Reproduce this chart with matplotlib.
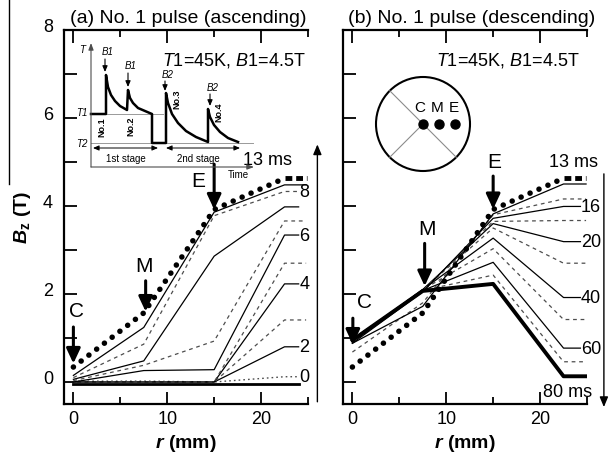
import numpy as np
import matplotlib.pyplot as plt
from matplotlib.patches import Circle
from matplotlib.lines import Line2D
from matplotlib.transforms import ScaledTranslation

plt.rcParams['font.family'] = ['Liberation Sans', 'DejaVu Sans']
plt.rcParams['mathtext.fontset'] = 'custom'
plt.rcParams['mathtext.rm'] = 'Liberation Sans'
plt.rcParams['mathtext.it'] = 'Liberation Sans:italic'
plt.rcParams['mathtext.bf'] = 'Liberation Sans:bold'
plt.rcParams['mathtext.bfit'] = 'Liberation Sans:italic:bold'

# probe positions C, M, E and the outer point (mm)
r_pts = [0, 7.5, 15, 22.5]

# (a) ascending part of pulse No.1, Bz (T) at r_pts
asc_13 = [0.34, 1.57, 3.92, 4.63]
asc_s1 = [0.15, 1.24, 3.86, 4.48]
asc_d1 = [0.10, 0.86, 3.78, 4.33]
asc_s2 = [0.06, 0.48, 2.86, 3.98]
asc_d2 = [0.03, 0.38, 0.93, 3.66]
asc_s3 = [0.00, 0.26, 0.28, 3.34]
asc_d3 = [0.00, 0.00, 0.00, 2.70]
asc_s4 = [0.00, 0.00, 0.00, 2.23]
asc_d4 = [0.00, 0.00, 0.00, 1.41]
asc_s5 = [0.00, 0.00, 0.00, 0.80]
asc_d5 = [0.02, 0.02, 0.00, 0.12]
asc_base = [-0.05, -0.05, -0.05, -0.05]

# (b) descending part of pulse No.1
desc_13 = [0.34, 1.57, 3.92, 4.63]
desc_s1 = [0.88, 1.72, 3.82, 4.50]
desc_d1 = [0.68, 1.80, 3.80, 4.16]
desc_s2 = [0.88, 2.05, 3.72, 3.99]
desc_d2 = [0.90, 2.08, 3.65, 3.67]
desc_s3 = [0.92, 2.10, 3.60, 3.19]
desc_d3 = [0.93, 2.10, 3.50, 2.70]
desc_s4 = [0.95, 2.10, 3.27, 1.92]
desc_d4 = [0.95, 2.10, 3.03, 1.42]
desc_s5 = [0.97, 2.08, 2.72, 0.77]
desc_d5 = [0.97, 2.08, 2.43, 0.46]
desc_80 = [0.95, 2.07, 2.23, 0.13]

# inset: schematic temperature history (time, T in arbitrary units)
sch_t = [0, 15, 15, 17, 20, 24, 29, 36, 37, 39, 42, 47, 54, 61, 61, 75, 75,
         77, 81, 87, 95, 105, 117, 117, 119, 123, 129, 137, 147]
sch_T = [53, 53, 92, 80, 72, 66, 61, 57, 77, 69, 64, 59, 56, 53, 24, 24, 74,
         64, 53, 44, 36, 30, 25, 58, 50, 42, 35, 29, 25]
T1_lev = 53
T2_lev = 24

solid = dict(color='k', lw=0.9)
dash = dict(color='0.3', lw=0.9, dashes=(3, 3))
dot = dict(color='0.3', lw=1.0, dashes=(1.2, 2.2))
big_dot = dict(color='k', lw=4, dashes=(0.01, 1.75), dash_capstyle='round')
thick = dict(color='k', lw=2.8)


def curve(ax, vals, style, r_end):
    ax.plot(r_pts + [r_end], vals + [vals[-1]], **style)


def arrow(ax, x, y0, y1, lw=2.2):
    ax.annotate('', xy=(x, y1), xytext=(x, y0),
                arrowprops=dict(arrowstyle='-|>,head_length=0.9,head_width=0.42',
                                lw=lw, color='k', shrinkA=0, shrinkB=0))


def frame(ax):
    ax.set_xlim(-1, 25)
    ax.set_ylim(-0.5, 8)
    ax.spines['right'].set_visible(False)
    for s in ['left', 'top', 'bottom']:
        ax.spines[s].set_linewidth(1.6)
    ax.set_xticks([0, 10, 20])
    ax.set_xticks([5, 15, 25], minor=True)
    ax.set_yticks([0, 2, 4, 6, 8])
    ax.set_yticks([1, 3, 5, 7], minor=True)
    ax.tick_params(which='both', direction='in', top=True, right=False,
                   width=1.3, labelsize=13)
    ax.tick_params(which='major', length=9, pad=4)
    ax.tick_params(axis='x', which='minor', length=5)
    ax.tick_params(axis='y', which='minor', length=9)
    ax.set_xlabel(r'$\mathbfit{r}$ (mm)', fontsize=14, fontweight='bold', labelpad=4)


fig = plt.figure(figsize=(6.11, 4.56), dpi=100)
ax1 = fig.add_axes([64 / 611, 1 - 405 / 456, 244 / 611, 374 / 456])
ax2 = fig.add_axes([343 / 611, 1 - 405 / 456, 244 / 611, 374 / 456])

# ---------- (a) ascending ----------
frame(ax1)
ax1.set_ylabel(r'$\mathbfit{B}_{\mathbf{z}}$ (T)', fontsize=14, fontweight='bold', labelpad=7)
ax1.tick_params(axis='y', pad=8)
for lab in ax1.get_yticklabels():
    lab.set_transform(lab.get_transform() + ScaledTranslation(0, 4 / 72, fig.dpi_scale_trans))

curve(ax1, asc_base, dict(color='k', lw=2), 24.0)
curve(ax1, asc_d5, dot, 24.0)
curve(ax1, asc_s5, solid, 24.0)
curve(ax1, asc_d4, dash, 24.8)
curve(ax1, asc_s4, solid, 24.0)
curve(ax1, asc_d3, dash, 24.8)
curve(ax1, asc_s3, solid, 24.0)
curve(ax1, asc_d2, dash, 24.8)
curve(ax1, asc_s2, solid, 24.0)
curve(ax1, asc_d1, dash, 24.0)
curve(ax1, asc_s1, solid, 24.8)
ax1.plot(r_pts, asc_13, **big_dot)
ax1.plot([22.5, 24.9], [asc_13[-1]] * 2, color='k', lw=3.5, dashes=(1.4, 0.8))

for txt, v in [('8', asc_d1[-1]), ('6', asc_s3[-1]), ('4', asc_s4[-1]),
               ('2', asc_s5[-1]), ('0', asc_d5[-1])]:
    ax1.text(24.1, v, txt, fontsize=13, va='center', ha='left')
ax1.text(20.7, 5.05, '13 ms', fontsize=13, ha='center', va='center')
ax1.annotate('', xy=(26.0, 5.4), xytext=(26.0, -0.45),
             arrowprops=dict(arrowstyle='-|>,head_length=0.6,head_width=0.25',
                             lw=1.0, color='k', shrinkA=0, shrinkB=0),
             annotation_clip=False)

arrow(ax1, 0, 1.25, 0.42)
ax1.text(0.3, 1.62, 'C', fontsize=15, ha='center', va='center')
arrow(ax1, 7.7, 2.3, 1.6)
ax1.text(7.5, 2.64, 'M', fontsize=15, ha='center', va='center')
arrow(ax1, 15, 4.95, 3.92)
ax1.text(13.3, 4.57, 'E', fontsize=15, ha='center', va='center')

ax1.text(0.992, 0.922, r'$\mathit{T1}$=45K, $\mathit{B1}$=4.5T', transform=ax1.transAxes,
         fontsize=13, ha='right', va='center')
ax1.text(6 / 244, 1.0 + 4 / 374, '(a) No. 1 pulse (ascending)', transform=ax1.transAxes,
         fontsize=14, ha='left', va='bottom')

# ---------- (b) descending ----------
frame(ax2)
ax2.tick_params(axis='y', labelleft=False)

curve(ax2, desc_d5, dash, 24.9)
curve(ax2, desc_s5, solid, 24.3)
curve(ax2, desc_d4, dash, 24.9)
curve(ax2, desc_s4, solid, 24.3)
curve(ax2, desc_d3, dash, 24.9)
curve(ax2, desc_s3, solid, 24.3)
curve(ax2, desc_d2, dash, 24.9)
curve(ax2, desc_s2, solid, 24.3)
curve(ax2, desc_d1, dash, 24.9)
curve(ax2, desc_s1, solid, 24.9)
curve(ax2, desc_80, thick, 24.9)
ax2.plot(r_pts, desc_13, **big_dot)
ax2.plot([22.5, 24.9], [desc_13[-1]] * 2, color='k', lw=3.5, dashes=(1.4, 0.8))

for txt, v in [('16', desc_s2[-1]), ('20', desc_s3[-1]), ('40', desc_s4[-1]),
               ('60', desc_s5[-1])]:
    ax2.text(24.35, v, txt, fontsize=13, va='center', ha='left')
ax2.text(23.6, 5.0, '13 ms', fontsize=13, ha='center', va='center')
ax2.text(22.9, -0.22, '80 ms', fontsize=13, ha='center', va='center')
ax2.annotate('', xy=(26.8, -0.57), xytext=(26.8, 4.73),
             arrowprops=dict(arrowstyle='-|>,head_length=0.6,head_width=0.25',
                             lw=1.0, color='k', shrinkA=0, shrinkB=0),
             annotation_clip=False)

arrow(ax2, 0.05, 1.45, 0.85)
ax2.text(1.3, 1.84, 'C', fontsize=15, ha='center', va='center')
arrow(ax2, 7.7, 3.15, 2.18)
ax2.text(8.0, 3.48, 'M', fontsize=15, ha='center', va='center')
arrow(ax2, 15, 4.68, 3.93)
ax2.text(15.1, 5.02, 'E', fontsize=15, ha='center', va='center')

ax2.text(0.971, 0.922, r'$\mathit{T1}$=45K, $\mathit{B1}$=4.5T', transform=ax2.transAxes,
         fontsize=13, ha='right', va='center')
ax2.text(5 / 244, 1.0 + 4 / 374, '(b) No. 1 pulse (descending)', transform=ax2.transAxes,
         fontsize=14, ha='left', va='bottom')

# ---------- inset: temperature schematic ----------
axi = fig.add_axes([71 / 611, 1 - 180 / 456, 185 / 611, 140 / 456])
axi.set_xlim(-20, 165)
axi.set_ylim(-12, 128)
axi.axis('off')
axi.patch.set_alpha(0)
axi.plot([0, 72], [T1_lev, T1_lev], color='0.6', lw=0.7)
axi.plot([0, 162], [T2_lev, T2_lev], color='0.6', lw=0.7)
axi.annotate('', xy=(0, 124), xytext=(0, 0),
             arrowprops=dict(arrowstyle='-|>,head_length=0.4,head_width=0.15', lw=0.8, color='0.3',
                             shrinkA=0, shrinkB=0))
axi.annotate('', xy=(163, 0), xytext=(0, 0),
             arrowprops=dict(arrowstyle='-|>,head_length=0.4,head_width=0.15', lw=0.8, color='0.3',
                             shrinkA=0, shrinkB=0))
axi.plot(sch_t, sch_T, color='k', lw=1.8)
for txt, yy in [('T', 118), ('T1', 55), ('T2', 24)]:
    axi.text(-9, yy, txt, fontsize=7, style='italic', ha='center', va='center')
axi.text(147, -7, 'Time', fontsize=7, ha='center', va='center')
for t0, ty, a0, a1, lab in [(14, 116, 108, 95, 'B1'), (37, 102, 94, 80, 'B1'),
                            (74, 93, 86, 76, 'B2'), (119, 80, 73, 61, 'B2')]:
    axi.text(t0 + 3, ty, lab, fontsize=7, style='italic', ha='center', va='center')
    axi.annotate('', xy=(t0, a1), xytext=(t0, a0),
                 arrowprops=dict(arrowstyle='-|>,head_length=0.35,head_width=0.15', lw=0.8,
                                 color='k', shrinkA=0, shrinkB=0))
for t0, ty, lab in [(11, 41, 'No.1'), (40, 42, 'No.2'), (86, 69, 'No.3'), (128, 56, 'No.4')]:
    axi.text(t0, ty, lab, fontsize=6.5, fontweight='bold', rotation=90, ha='center', va='center')
for a, b, lab, tc in [(2, 67, '1st stage', 35), (75, 149, '2nd stage', 107)]:
    axi.annotate('', xy=(b, 19), xytext=(a, 19),
                 arrowprops=dict(arrowstyle='<|-|>,head_length=0.35,head_width=0.15', lw=0.7,
                                 color='k', shrinkA=0, shrinkB=0))
    axi.text(tc, 9, lab, fontsize=7, ha='center', va='center')

# ---------- inset: sample disc with probe positions ----------
axc = fig.add_axes([(423 - 55) / 611, 1 - (125 + 55) / 456, 110 / 611, 110 / 456])
axc.set_xlim(-55, 55)
axc.set_ylim(-55, 55)
axc.set_aspect('equal')
axc.axis('off')
axc.add_patch(Circle((0, 0), 47, fill=False, lw=1.5, color='k'))
for dx, dy in [(-1, 1), (-1, -1), (1, -1)]:
    axc.plot([0, 47 * 0.707 * dx], [0, 47 * 0.707 * dy], color='0.55', lw=0.8)
probe_x = [0, 16, 32]
axc.plot(probe_x, [0, 0, 0], 'o', color='k', ms=6.5, ls='none')
for px, lab in zip([-3, 14, 31], ['C', 'M', 'E']):
    axc.text(px, 17, lab, fontsize=11, ha='center', va='center')

# thin border line seen at the far left of the original scan
fig.add_artist(Line2D([9 / 611, 9 / 611], [1.0, 1 - 185 / 456], color='k', lw=1.0))

fig.savefig('out.png', dpi=100)
